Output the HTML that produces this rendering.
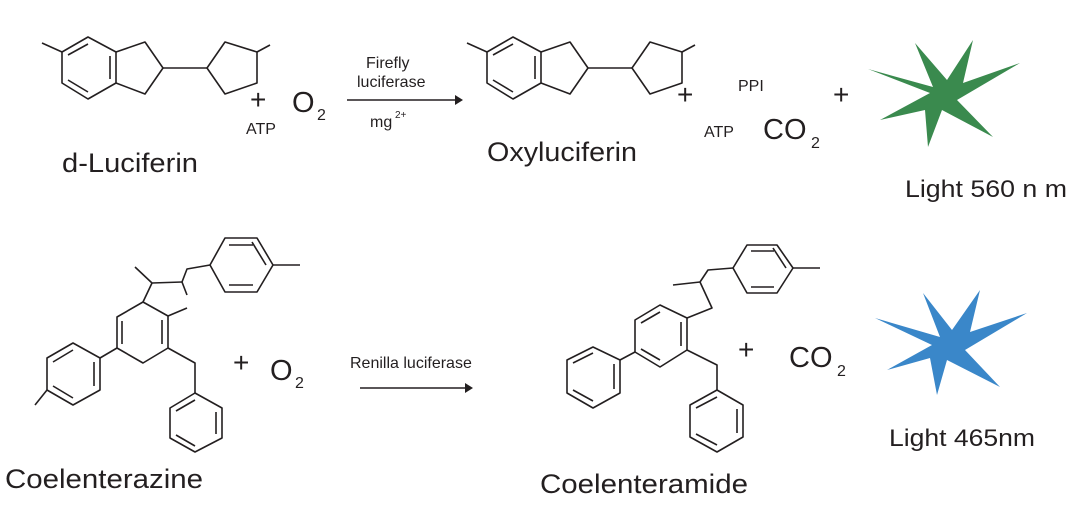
<!DOCTYPE html>
<html><head><meta charset="utf-8"><style>
html,body{margin:0;padding:0;background:#fff;}
svg{display:block;font-family:"Liberation Sans",Arial,sans-serif;}
</style></head><body>
<svg width="1079" height="513" viewBox="0 0 1079 513" xmlns="http://www.w3.org/2000/svg">
<g fill="none" stroke="#231f20" stroke-width="1.6" stroke-linejoin="round">
<g id="luc">
<polyline points="42,43 62,52"/>
<polygon points="88,37 116,52 116,83 88,99 62,83 62,52"/>
<line x1="68" y1="55" x2="88" y2="44"/>
<line x1="110" y1="56" x2="110" y2="79"/>
<line x1="68" y1="80" x2="88" y2="92"/>
<polyline points="116,52 145,42 163,68 145,94 116,83"/>
<line x1="163" y1="68" x2="207" y2="68"/>
<polygon points="207,68 225,42 257,52 257,83 225,94"/>
<line x1="257" y1="52" x2="270" y2="45"/>
</g>
<use href="#luc" transform="translate(425,0)"/>
<line x1="347" y1="100" x2="455" y2="100"/>
<line x1="360" y1="388" x2="465" y2="388"/>
<polygon points="225,238 257,238 273,265 257,292 225,292 210,265"/>
<line x1="229" y1="245" x2="253" y2="245"/>
<line x1="229" y1="285" x2="253" y2="285"/>
<line x1="266" y1="265" x2="252" y2="242"/>
<polyline points="273,265 300,265"/>
<polyline points="210,265 187,269 182,282 187,295"/>
<polyline points="182,282 152,283 135,267"/>
<line x1="152" y1="283" x2="143" y2="302"/>
<polygon points="143,302 168,316 168,348 143,363 117,348 117,317"/>
<line x1="122" y1="321" x2="122" y2="344"/>
<line x1="162" y1="320" x2="162" y2="344"/>
<line x1="168" y1="316" x2="187" y2="308"/>
<line x1="117" y1="348" x2="100" y2="358"/>
<polygon points="100,358 100,390 73,405 47,390 47,358 73,343"/>
<line x1="94" y1="362" x2="94" y2="386"/>
<line x1="53" y1="362" x2="73" y2="350"/>
<line x1="53" y1="386" x2="73" y2="398"/>
<line x1="47" y1="390" x2="35" y2="405"/>
<polyline points="168,348 195,363 195,393"/>
<polygon points="195,393 222,408 222,438 195,452 170,438 170,408"/>
<line x1="216" y1="412" x2="216" y2="434"/>
<line x1="176" y1="411" x2="195" y2="400"/>
<line x1="176" y1="435" x2="195" y2="446"/>
<polygon points="733,268 747,245 777,245 793,268 777,293 747,293"/>
<line x1="751" y1="251" x2="774" y2="251"/>
<line x1="751" y1="287" x2="774" y2="287"/>
<line x1="786" y1="268" x2="773" y2="248"/>
<line x1="793" y1="268" x2="820" y2="268"/>
<polyline points="733,268 708,270 700,282 673,285"/>
<polyline points="700,282 712,308 687,318"/>
<polygon points="687,318 687,350 660,367 635,352 635,320 660,305"/>
<line x1="681" y1="322" x2="681" y2="346"/>
<line x1="641" y1="323" x2="660" y2="312"/>
<line x1="641" y1="349" x2="660" y2="360"/>
<line x1="635" y1="352" x2="620" y2="360"/>
<polygon points="620,360 620,393 593,408 567,393 567,360 593,347"/>
<line x1="614" y1="364" x2="614" y2="389"/>
<line x1="573" y1="363" x2="593" y2="353"/>
<line x1="573" y1="390" x2="593" y2="401"/>
<polyline points="687,350 717,365 717,390"/>
<polygon points="717,390 743,405 743,437 717,452 690,437 690,405"/>
<line x1="737" y1="409" x2="737" y2="433"/>
<line x1="696" y1="408" x2="717" y2="397"/>
<line x1="696" y1="434" x2="717" y2="445"/>
</g>
<polygon points="455,95 463,100 455,105" fill="#231f20"/>
<polygon points="465,383 473,388 465,393" fill="#231f20"/>
<polygon fill="#3a8a4e" points="915,43 947,80 973,40 963,83 1020,63 957,100 993,137 942,110 928,147 925,110 880,120 930,93 868,69 933,87"/>
<polygon fill="#3a87c9" points="923,293 952,330 980,290 970,332 1027,313 965,350 1000,387 947,360 937,395 930,358 887,370 932,345 875,318 940,337"/>
<g fill="#231f20">
<text x="250" y="109" font-size="28">+</text>
<text x="292" y="112" font-size="29">O</text><text x="317" y="120" font-size="16">2</text>
<text x="246" y="134" font-size="16">ATP</text>
<text x="62" y="172" font-size="27" textLength="136" lengthAdjust="spacingAndGlyphs">d-Luciferin</text>
<text x="366" y="68" font-size="16">Firefly</text>
<text x="357" y="87" font-size="16">luciferase</text>
<text x="370" y="127" font-size="16">mg</text><text x="395" y="118" font-size="10">2+</text>
<text x="677" y="104" font-size="28">+</text>
<text x="487" y="161" font-size="27" textLength="150" lengthAdjust="spacingAndGlyphs">Oxyluciferin</text>
<text x="738" y="91" font-size="16">PPI</text>
<text x="704" y="137" font-size="16">ATP</text>
<text x="763" y="139" font-size="29">CO</text><text x="811" y="148" font-size="16">2</text>
<text x="833" y="104" font-size="28">+</text>
<text x="905" y="197" font-size="24" textLength="162" lengthAdjust="spacingAndGlyphs">Light 560 n  m</text>
<text x="233" y="372" font-size="28">+</text>
<text x="270" y="380" font-size="29">O</text><text x="295" y="388" font-size="16">2</text>
<text x="350" y="368" font-size="16">Renilla luciferase</text>
<text x="5" y="488" font-size="27" textLength="198" lengthAdjust="spacingAndGlyphs">Coelenterazine</text>
<text x="738" y="359" font-size="28">+</text>
<text x="789" y="367" font-size="29">CO</text><text x="837" y="376" font-size="16">2</text>
<text x="889" y="446" font-size="24" textLength="146" lengthAdjust="spacingAndGlyphs">Light 465nm</text>
<text x="540" y="493" font-size="27" textLength="208" lengthAdjust="spacingAndGlyphs">Coelenteramide</text>
</g>
</svg>
</body></html>
